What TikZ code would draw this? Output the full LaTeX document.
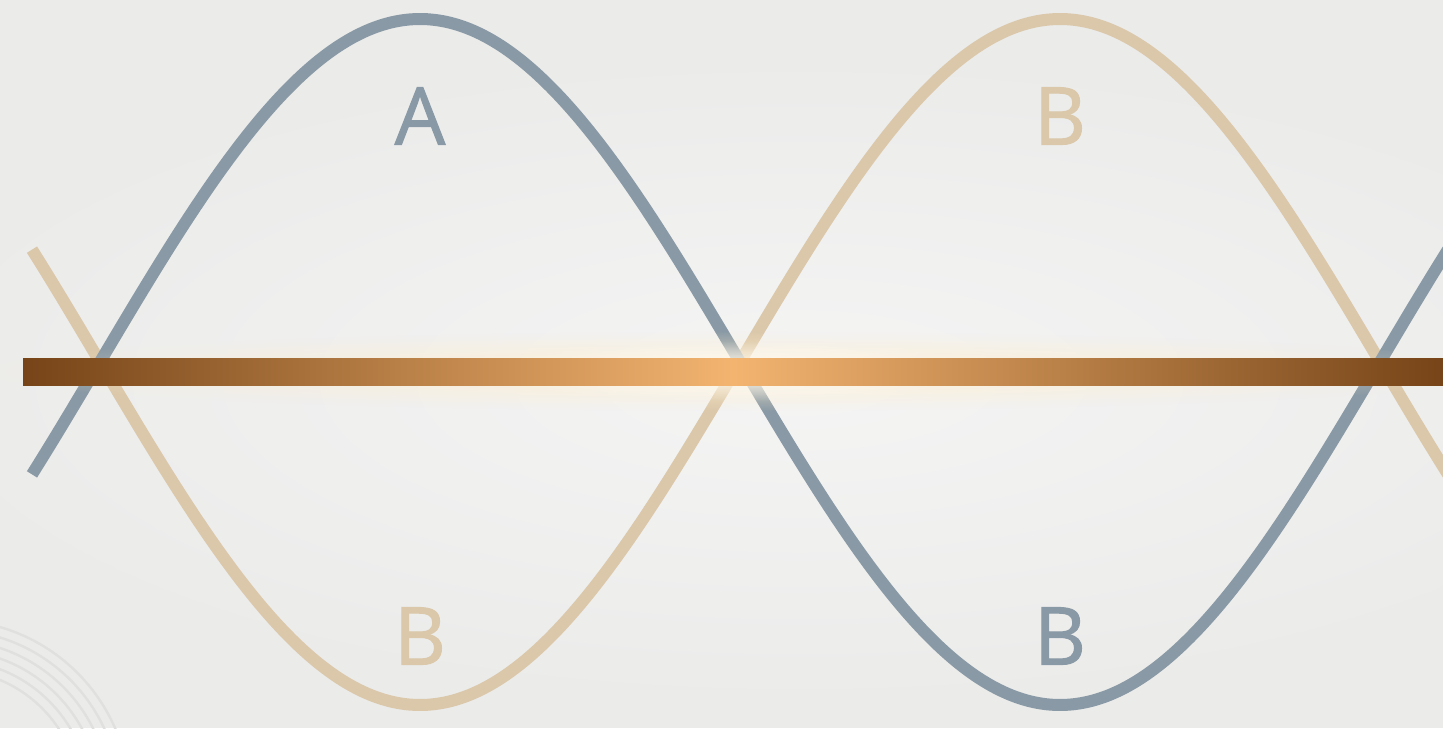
\documentclass[tikz,border=0pt]{standalone}
\usepackage{fontspec}
\setmainfont{Open Sans}
\newfontfamily\lblfont{Open Sans}[FakeBold=1.3]
\usetikzlibrary{fadings}
\definecolor{bgcolor}{RGB}{235,235,234}
\definecolor{slate}{RGB}{137,153,165}
\definecolor{sand}{RGB}{219,200,170}
\definecolor{bardark}{RGB}{118,68,24}
\definecolor{barlight}{RGB}{243,180,112}
\definecolor{glowcolor}{RGB}{255,238,205}
\definecolor{arccolor}{RGB}{224,224,222}
\tikzfading[name=glowfade, inner color=transparent!0, outer color=transparent!100]
\tikzset{
  wave/.style={line width=6pt},
  letter/.style={font=\lblfont\fontsize{40}{42}\selectfont, inner sep=0pt},
  ring/.style={draw=arccolor, line width=1.2pt},
}

\begin{document}
\begin{tikzpicture}[x=0.5pt, y=-0.5pt]

\useasboundingbox (0,0) rectangle (1443,728);
\clip (0,0) rectangle (1443,728);

% background
\fill[bgcolor] (0,0) rectangle (1443,728);
\fill[white, opacity=0.5, path fading=glowfade] (800,380) ellipse (950 and 340);
\foreach \r in {130,140,...,180}
  \draw[ring] (-50,800) circle (\r);

% the two waves (period 1280 px)
\draw[wave, sand] plot[domain=32:1460, samples=160, smooth]
  (\x, {362 + 343*sin((\x-100)*0.28125)});
\draw[wave, slate] plot[domain=32:1460, samples=160, smooth]
  (\x, {362 - 343*sin((\x-100)*0.28125)});

% glow round the bar
\fill[glowcolor, opacity=0.85, path fading=glowfade] (740,371) ellipse (780 and 40);
\fill[white, opacity=0.7, path fading=glowfade] (740,371) ellipse (260 and 30);

% bar
\shade[left color=bardark, right color=bardark, middle color=barlight]
  (23,358) rectangle (1443,385);

% labels
\node[letter, text=slate] (lblA) at (420,116) {A};
\node[letter, text=sand] (lblBtop) at (1060,116) {B};
\node[letter, text=sand] (lblBleft) at (420,636) {B};
\node[letter, text=slate] (lblBright) at (1060,636) {B};

\end{tikzpicture}
\end{document}
